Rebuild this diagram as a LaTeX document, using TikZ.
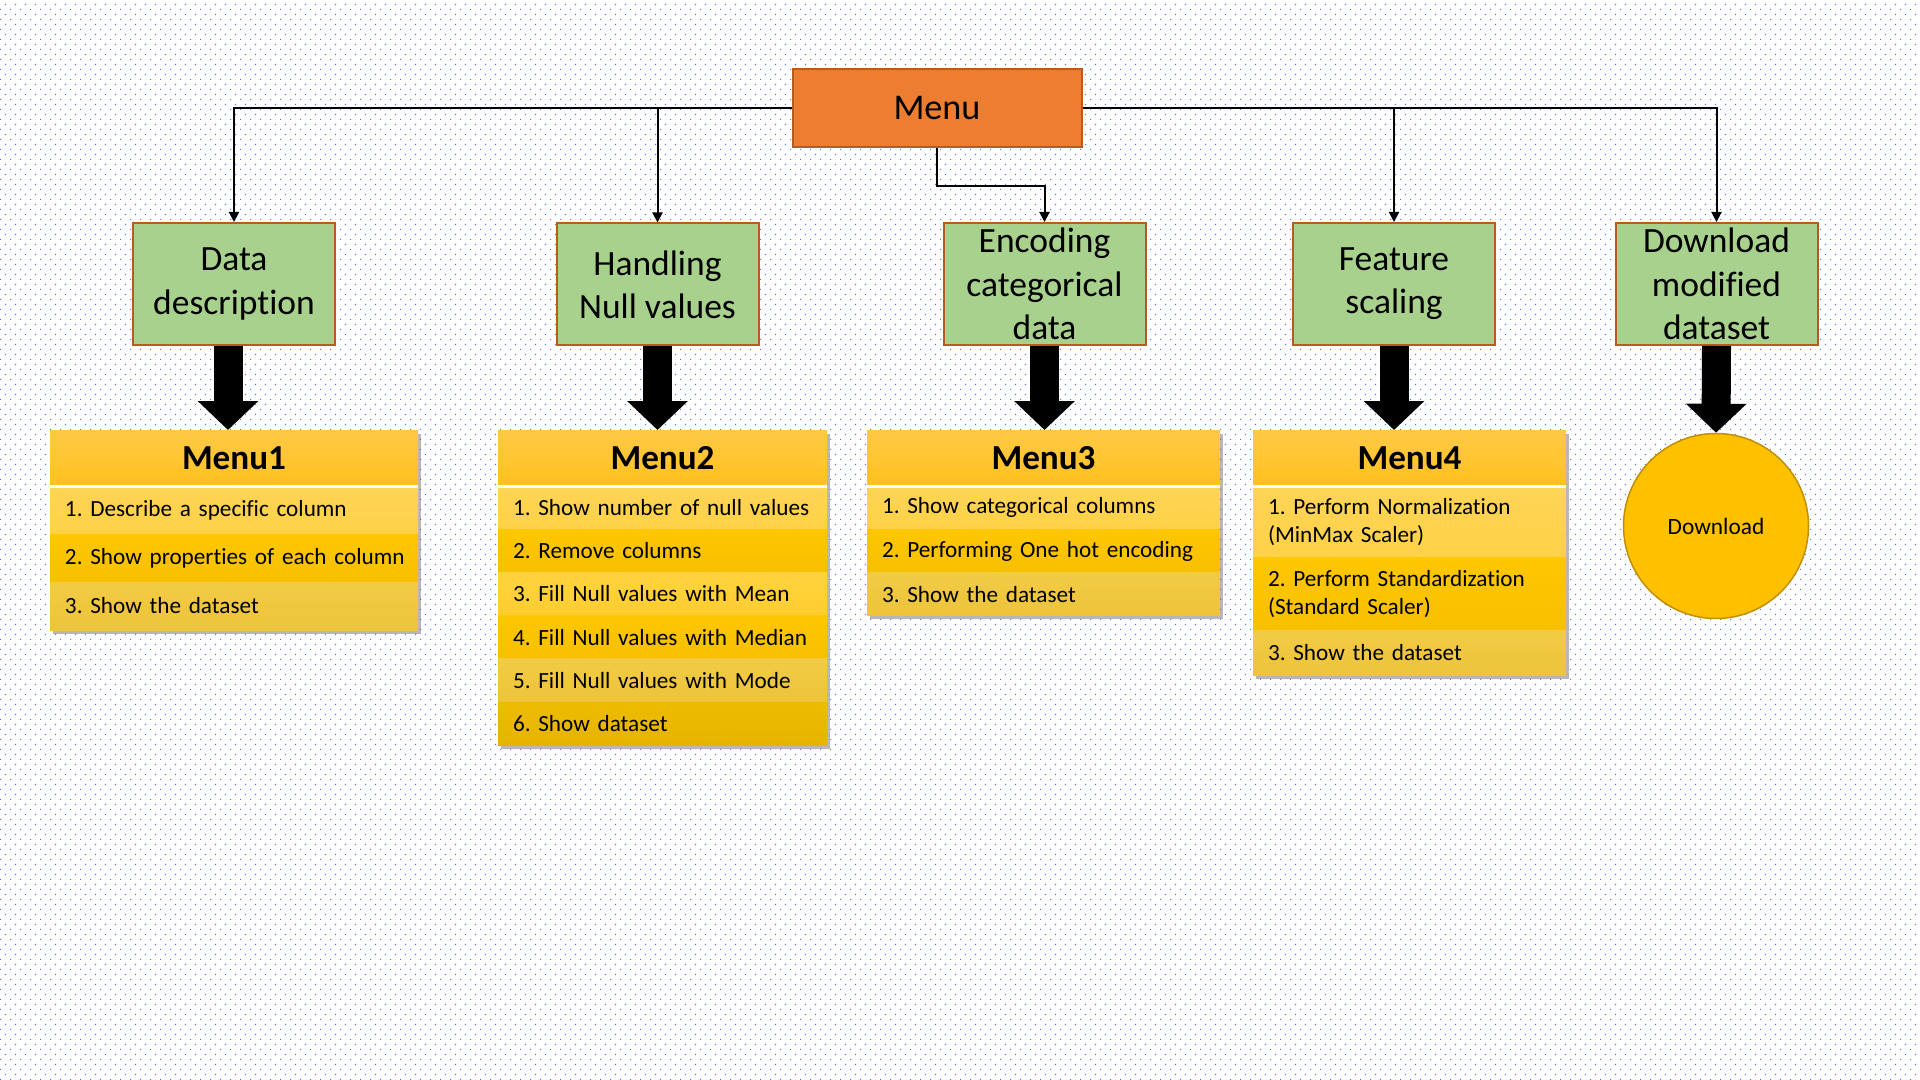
\documentclass[tikz,border=0pt]{standalone}
\usepackage{fontspec}
\setmainfont{Carlito}[Ligatures=NoCommon]
\usetikzlibrary{positioning,arrows.meta,patterns,shadows,fit,backgrounds}
\frenchspacing

\definecolor{menuorange}{HTML}{ED7D31}
\definecolor{boxedge}{HTML}{B85C1E}
\definecolor{stepgreen}{HTML}{A9D18E}
\definecolor{dotblue}{HTML}{5B7FD0}
\definecolor{dlgold}{HTML}{FFC000}
\definecolor{dledge}{HTML}{C09000}
\definecolor{headtop}{HTML}{FFC947}
\definecolor{headbot}{HTML}{FFC11F}
\definecolor{lighttop}{HTML}{FFD557}
\definecolor{lightbot}{HTML}{FFD147}
\definecolor{midtop}{HTML}{FFD33F}
\definecolor{midbot}{HTML}{FFCD30}
\definecolor{darktop}{HTML}{FFC700}
\definecolor{darkbot}{HTML}{F7C000}
\definecolor{paletop}{HTML}{F2CB45}
\definecolor{palebot}{HTML}{EDC43A}
\definecolor{deeptop}{HTML}{EDBC00}
\definecolor{deepbot}{HTML}{E6B400}

\pgfdeclarepatternformonly{bgdots}{\pgfpointorigin}{\pgfqpoint{2.845pt}{2.845pt}}{\pgfqpoint{2.845pt}{2.845pt}}{%
  \pgfpathrectangle{\pgfqpoint{0pt}{0pt}}{\pgfqpoint{0.35pt}{0.35pt}}%
  \pgfpathrectangle{\pgfqpoint{1.4225pt}{1.4225pt}}{\pgfqpoint{0.35pt}{0.35pt}}%
  \pgfusepath{fill}}

% one line of a menu list, never broken
\newcommand{\rowline}[1]{\makebox[\hsize][l]{#1}}

\tikzset{
  menubox/.style={draw=boxedge, line width=0.02cm, fill=menuorange, minimum width=2.89cm,
    minimum height=0.78cm, inner sep=0, font=\fontsize{10.3}{12.5}\selectfont},
  stepbox/.style={draw=boxedge, line width=0.02cm, fill=stepgreen, minimum width=2.02cm,
    minimum height=1.22cm, align=center, inner sep=0, font=\fontsize{10.1}{12.3}\selectfont},
  listhead/.style={inner xsep=0.15cm, inner ysep=0, outer sep=0, minimum height=0.56cm, align=center,
    top color=headtop, bottom color=headbot, font=\bfseries\fontsize{10}{12}\selectfont},
  listrow/.style={inner xsep=0.15cm, inner ysep=0, outer sep=0, align=left,
    font=\fontsize{6.6}{8}\selectfont},
  rowlight/.style={listrow, top color=lighttop, bottom color=lightbot},
  rowmid/.style={listrow, top color=midtop, bottom color=midbot},
  rowdark/.style={listrow, top color=darktop, bottom color=darkbot},
  rowpale/.style={listrow, top color=paletop, bottom color=palebot},
  rowdeep/.style={listrow, top color=deeptop, bottom color=deepbot},
  listshadow/.style={inner sep=0, fill=headbot,
    drop shadow={shadow xshift=0.03cm, shadow yshift=-0.035cm, opacity=0.4, fill=black!70}},
  dlcircle/.style={circle, draw=dledge, line width=0.015cm, fill=dlgold, minimum size=1.85cm,
    inner sep=0, font=\fontsize{6.65}{8}\selectfont},
  link/.style={line width=0.02cm, -{Triangle[width=0.1cm,length=0.1cm]}},
  bigarrow/.style={line width=0.29cm, -{Triangle[width=0.59cm,length=0.29cm]}},
}

\begin{document}
\begin{tikzpicture}
  \useasboundingbox (0,0) rectangle (19.2,-10.8);
  \begin{scope}[on background layer]
    \fill[white] (0,0) rectangle (19.2,-10.8);
    \fill[pattern=bgdots, pattern color=dotblue] (0,0) rectangle (19.2,-10.8);
  \end{scope}

  % top level
  \node[menubox] (menu) at (9.37,-1.085) {Menu};
  \node[stepbox] (datadesc) at (2.34,-2.84) {Data\\description};
  \node[stepbox] (handling) at (6.575,-2.845) {Handling\\Null values};
  \node[stepbox] (encoding) at (10.445,-2.84) {Encoding\\categorical\\data};
  \node[stepbox] (feature) at (13.94,-2.84) {Feature\\scaling};
  \node[stepbox] (dlbox) at (17.165,-2.84) {Download\\modified\\dataset};

  \draw[link] (menu.west) -| (datadesc.north);
  \draw[link] (menu.west) -| (handling.north);
  \draw[link] (menu.south) -- ++(0,-0.38) -| (encoding.north);
  \draw[link] (menu.east) -| (feature.north);
  \draw[link] (menu.east) -| (dlbox.north);

  % Menu1
  \begin{scope}[every node/.append style={text width=3.38cm, minimum height=0.48cm}]
    \node[listhead, anchor=north] (m1head) at (2.34,-4.30) {Menu1};
    \node[rowlight, below=0pt of m1head] (m1a) {\rowline{1. Describe a specific column}};
    \node[rowdark, below=0pt of m1a] (m1b) {\rowline{2. Show properties of each column}};
    \node[rowpale, below=0pt of m1b] (m1c) {\rowline{3. Show the dataset}};
  \end{scope}
  \draw[white, line width=0.03cm] (m1head.south west) -- (m1head.south east);
  \begin{scope}[on background layer]
    \node[listshadow, fit=(m1head)(m1c)] (m1box) {};
  \end{scope}

  % Menu2
  \begin{scope}[every node/.append style={text width=2.99cm, minimum height=0.432cm}]
    \node[listhead, anchor=north] (m2head) at (6.625,-4.30) {Menu2};
    \node[rowlight, below=0pt of m2head] (m2a) {\rowline{1. Show number of null values}};
    \node[rowdark, below=0pt of m2a] (m2b) {\rowline{2. Remove columns}};
    \node[rowmid, below=0pt of m2b] (m2c) {\rowline{3. Fill Null values with Mean}};
    \node[rowdark, below=0pt of m2c] (m2d) {\rowline{4. Fill Null values with Median}};
    \node[rowpale, below=0pt of m2d] (m2e) {\rowline{5. Fill Null values with Mode}};
    \node[rowdeep, below=0pt of m2e] (m2f) {\rowline{6. Show dataset}};
  \end{scope}
  \draw[white, line width=0.03cm] (m2head.south west) -- (m2head.south east);
  \begin{scope}[on background layer]
    \node[listshadow, fit=(m2head)(m2f)] (m2box) {};
  \end{scope}

  % Menu3
  \begin{scope}[every node/.append style={text width=3.23cm, minimum height=0.433cm}]
    \node[listhead, anchor=north] (m3head) at (10.435,-4.30) {Menu3};
    \node[rowlight, below=0pt of m3head] (m3a) {\rowline{1. Show categorical columns}};
    \node[rowdark, below=0pt of m3a] (m3b) {\rowline{2. Performing One hot encoding}};
    \node[rowpale, below=0pt of m3b] (m3c) {\rowline{3. Show the dataset}};
  \end{scope}
  \draw[white, line width=0.03cm] (m3head.south west) -- (m3head.south east);
  \begin{scope}[on background layer]
    \node[listshadow, fit=(m3head)(m3c)] (m3box) {};
  \end{scope}

  % Menu4
  \begin{scope}[every node/.append style={text width=2.83cm}]
    \node[listhead, anchor=north] (m4head) at (14.095,-4.30) {Menu4};
    \node[rowlight, minimum height=0.715cm, below=0pt of m4head] (m4a)
      {\rowline{1. Perform Normalization}\\\rowline{(MinMax Scaler)}};
    \node[rowdark, minimum height=0.73cm, below=0pt of m4a] (m4b)
      {\rowline{2. Perform Standardization}\\\rowline{(Standard Scaler)}};
    \node[rowpale, minimum height=0.45cm, below=0pt of m4b] (m4c) {\rowline{3. Show the dataset}};
  \end{scope}
  \draw[white, line width=0.03cm] (m4head.south west) -- (m4head.south east);
  \begin{scope}[on background layer]
    \node[listshadow, fit=(m4head)(m4c)] (m4box) {};
  \end{scope}

  \node[dlcircle] (dlcirc) at (17.16,-5.26) {Download};

  % thick arrows down
  \draw[bigarrow] ([xshift=-0.06cm]datadesc.south) -- ([xshift=-0.06cm]datadesc.south |- m1head.north);
  \draw[bigarrow] (handling.south) -- (handling.south |- m2head.north);
  \draw[bigarrow] (encoding.south) -- (encoding.south |- m3head.north);
  \draw[bigarrow] (feature.south) -- (feature.south |- m4head.north);
  \draw[bigarrow] (dlbox.south) -- (dlcirc.north);
\end{tikzpicture}
\end{document}
